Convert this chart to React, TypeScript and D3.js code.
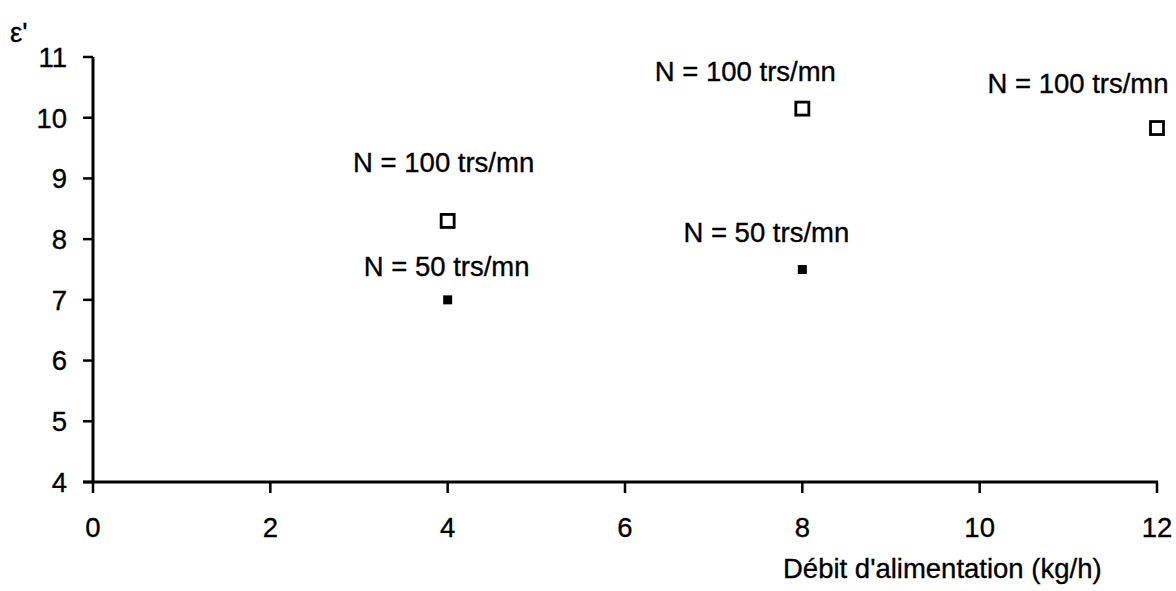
import React from "react";
import * as d3 from "d3";

// Data
const feedRates = [4, 4, 8, 8, 12]; // kg/h
const epsilonValues = [8.3, 7.0, 10.15, 7.5, 9.83];
const speeds = [100, 50, 100, 50, 100]; // trs/mn
const xTickValues = [0, 2, 4, 6, 8, 10, 12];
const yTickValues = [4, 5, 6, 7, 8, 9, 10, 11];
const xAxisTitle = "Débit d'alimentation (kg/h)";
const yAxisTitle = "ε'";

// label offsets (px) per point, relative to marker centre
const labelDx = [-4, -1, -57, -36, -79];
const labelDy = [-49, -24, -28, -28, -35];

const W = 1176;
const H = 591;
const FONT = "'Liberation Sans', Arial, Helvetica, sans-serif";
const FS = 27.5;

export default function App() {
  const x = d3.scaleLinear().domain([0, 12]).range([93, 1157]);
  const y = d3.scaleLinear().domain([4, 11]).range([482, 57]);
  const x0 = x(0);
  const y0 = y(4);

  const points = feedRates.map((f, i) => ({
    f,
    e: epsilonValues[i],
    n: speeds[i],
    i,
  }));

  const textProps = { fontSize: FS, fill: "#000", stroke: "#000", strokeWidth: 0.35 };

  return (
    <svg
      width={W}
      height={H}
      style={{ position: "absolute", left: 0, top: 0, background: "#fff" }}
      fontFamily={FONT}
    >
      <rect x={0} y={0} width={W} height={H} fill="#fff" />
      {/* Y axis */}
      <line x1={x0} x2={x0} y1={y(11)} y2={y0 + 1.5} stroke="#000" strokeWidth={3} />
      {yTickValues.map((t) => (
        <g key={"y" + t}>
          <line x1={x0 - 10} x2={x0} y1={y(t)} y2={y(t)} stroke="#000" strokeWidth={2.5} />
          <text x={67} y={y(t)} dy="0.36em" textAnchor="end" {...textProps}>
            {t}
          </text>
        </g>
      ))}
      {/* X axis */}
      <line x1={x0 - 10} x2={x(12) + 1} y1={y0} y2={y0} stroke="#000" strokeWidth={3} />
      {xTickValues.map((t) => (
        <g key={"x" + t}>
          <line x1={x(t)} x2={x(t)} y1={y0} y2={y0 + 11} stroke="#000" strokeWidth={2.5} />
          <text x={x(t)} y={537} textAnchor="middle" {...textProps}>
            {t}
          </text>
        </g>
      ))}
      <text x={783} y={578} {...textProps}>
        {xAxisTitle}
      </text>
      <text x={10} y={42} {...textProps}>
        {yAxisTitle}
      </text>

      {/* markers */}
      {points.map((p) =>
        p.n === 100 ? (
          <rect
            key={"m" + p.i}
            x={x(p.f) - 6.5}
            y={y(p.e) - 6.5}
            width={13}
            height={13}
            fill="#fff"
            stroke="#000"
            strokeWidth={2.8}
          />
        ) : (
          <rect
            key={"m" + p.i}
            x={x(p.f) - 4.5}
            y={y(p.e) - 4.5}
            width={9}
            height={9}
            fill="#000"
          />
        )
      )}
      {/* labels */}
      {points.map((p) => (
        <text
          key={"l" + p.i}
          x={x(p.f) + labelDx[p.i]}
          y={y(p.e) + labelDy[p.i]}
          textAnchor="middle"
          {...textProps}
        >
          {`N = ${p.n} trs/mn`}
        </text>
      ))}
    </svg>
  );
}
